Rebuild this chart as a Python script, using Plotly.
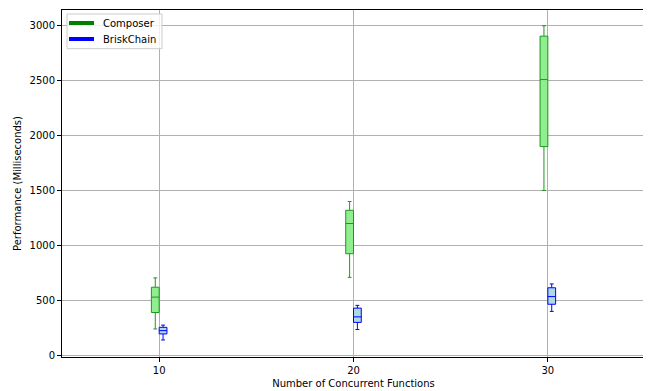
import plotly.graph_objects as go

categories = [10, 20, 30]
composer_low = [240, 710, 1500]
composer_q1 = [390, 925, 1900]
composer_med = [530, 1200, 2510]
composer_q3 = [620, 1320, 2905]
composer_high = [705, 1400, 3000]

brisk_low = [140, 235, 400]
brisk_q1 = [195, 300, 465]
brisk_med = [225, 350, 535]
brisk_q3 = [255, 430, 615]
brisk_high = [275, 455, 650]

series_names = ["Composer", "BriskChain"]
series_colors = ["green", "blue"]

fig = go.Figure()
fig.add_trace(go.Box(
    x=[c - 0.2 for c in categories], q1=composer_q1, median=composer_med, q3=composer_q3,
    lowerfence=composer_low, upperfence=composer_high, width=0.4, whiskerwidth=0.5,
    fillcolor="#90EE90", line=dict(color="#1a9a1a", width=1), showlegend=False, name="Composer"))
fig.add_trace(go.Box(
    x=[c + 0.2 for c in categories], q1=brisk_q1, median=brisk_med, q3=brisk_q3,
    lowerfence=brisk_low, upperfence=brisk_high, width=0.4, whiskerwidth=0.5,
    fillcolor="#ADD8E6", line=dict(color="#0000ff", width=1), showlegend=False, name="BriskChain"))

# Manual legend (matplotlib style) in paper coords
shapes = [dict(type="rect", xref="paper", yref="paper", x0=0.0086, x1=0.1715, y0=0.8885, y1=0.9885,
               line=dict(color="#cccccc", width=1), fillcolor="rgba(255,255,255,0.8)", layer="above")]
annotations = []
legend_y = [0.9625, 0.9164]
for name, col, ly in zip(series_names, series_colors, legend_y):
    shapes.append(dict(type="line", xref="paper", yref="paper", x0=0.012, x1=0.0549, y0=ly, y1=ly,
                       line=dict(color=col, width=4), layer="above"))
    annotations.append(dict(xref="paper", yref="paper", x=0.0669, y=ly, text=name, showarrow=False,
                            xanchor="left", yanchor="middle", font=dict(size=10, color="black")))

axis_common = dict(showline=True, linecolor="black", linewidth=1, mirror=True,
                   ticks="outside", ticklen=4, tickcolor="black", automargin=False,
                   showgrid=True, gridcolor="#b0b0b0", gridwidth=1, zeroline=False,
                   tickfont=dict(size=10, color="black"))
fig.update_layout(
    width=643, height=383,
    margin=dict(l=54, r=6, t=2, b=34),
    paper_bgcolor="white", plot_bgcolor="white",
    showlegend=False,
    font=dict(family="DejaVu Sans", size=10, color="black"),
    xaxis=dict(range=[5, 35], tickvals=categories, ticktext=[str(c) for c in categories],
               title=dict(text="Number of Concurrent Functions", font=dict(size=10), standoff=4),
               **axis_common),
    yaxis=dict(range=[-15, 3143], tickvals=[0, 500, 1000, 1500, 2000, 2500, 3000],
               title=dict(text="Performance (Milliseconds)", font=dict(size=10), standoff=6),
               **axis_common),
    shapes=shapes, annotations=annotations,
    boxmode="overlay",
)
fig.write_html("out.html")
